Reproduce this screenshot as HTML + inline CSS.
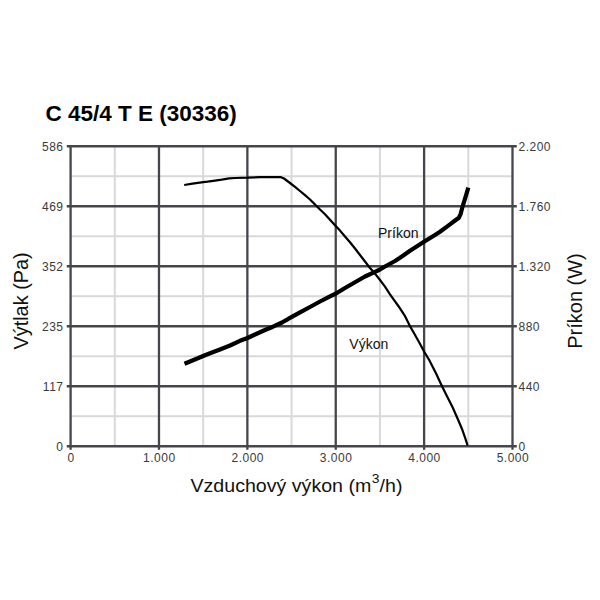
<!DOCTYPE html>
<html><head><meta charset="utf-8"><style>
html,body{margin:0;padding:0;background:#fff;}
svg{display:block;}
text{font-family:"Liberation Sans",sans-serif;}
.t{font-size:12px;fill:#3a3a3a;letter-spacing:0.5px;}
.c{font-size:14px;fill:#111;}
.ax{font-size:19.6px;fill:#111;}
.title{font-size:22.5px;font-weight:bold;fill:#000;}
</style></head><body>
<svg width="600" height="600" viewBox="0 0 600 600">
<rect width="600" height="600" fill="#fff"/>
<line x1="114.79" y1="146.25" x2="114.79" y2="446.25" stroke="#d8d9db" stroke-width="2"/>
<line x1="203.17" y1="146.25" x2="203.17" y2="446.25" stroke="#d8d9db" stroke-width="2"/>
<line x1="291.55" y1="146.25" x2="291.55" y2="446.25" stroke="#d8d9db" stroke-width="2"/>
<line x1="379.93" y1="146.25" x2="379.93" y2="446.25" stroke="#d8d9db" stroke-width="2"/>
<line x1="468.31" y1="146.25" x2="468.31" y2="446.25" stroke="#d8d9db" stroke-width="2"/>
<line x1="70.60" y1="416.25" x2="512.50" y2="416.25" stroke="#d8d9db" stroke-width="2"/>
<line x1="70.60" y1="356.25" x2="512.50" y2="356.25" stroke="#d8d9db" stroke-width="2"/>
<line x1="70.60" y1="296.25" x2="512.50" y2="296.25" stroke="#d8d9db" stroke-width="2"/>
<line x1="70.60" y1="236.25" x2="512.50" y2="236.25" stroke="#d8d9db" stroke-width="2"/>
<line x1="70.60" y1="176.25" x2="512.50" y2="176.25" stroke="#d8d9db" stroke-width="2"/>
<line x1="70.60" y1="146.25" x2="70.60" y2="449.85" stroke="#45464b" stroke-width="2.3"/>
<line x1="158.98" y1="146.25" x2="158.98" y2="449.85" stroke="#45464b" stroke-width="2.3"/>
<line x1="247.36" y1="146.25" x2="247.36" y2="449.85" stroke="#45464b" stroke-width="2.3"/>
<line x1="335.74" y1="146.25" x2="335.74" y2="449.85" stroke="#45464b" stroke-width="2.3"/>
<line x1="424.12" y1="146.25" x2="424.12" y2="449.85" stroke="#45464b" stroke-width="2.3"/>
<line x1="512.50" y1="146.25" x2="512.50" y2="449.85" stroke="#45464b" stroke-width="2.3"/>
<line x1="66.80" y1="446.25" x2="516.80" y2="446.25" stroke="#45464b" stroke-width="2.3"/>
<line x1="66.80" y1="386.25" x2="516.80" y2="386.25" stroke="#45464b" stroke-width="2.3"/>
<line x1="66.80" y1="326.25" x2="516.80" y2="326.25" stroke="#45464b" stroke-width="2.3"/>
<line x1="66.80" y1="266.25" x2="516.80" y2="266.25" stroke="#45464b" stroke-width="2.3"/>
<line x1="66.80" y1="206.25" x2="516.80" y2="206.25" stroke="#45464b" stroke-width="2.3"/>
<line x1="66.80" y1="146.25" x2="516.80" y2="146.25" stroke="#45464b" stroke-width="2.3"/>
<polyline points="184.2,185.0 192.5,183.6 203.3,182.2 207.5,181.7 213.3,180.8 221.7,179.6 229.2,178.3 235.0,178.0 247.5,177.7 260.0,177.1 275.0,177.2 281.0,177.2 284.0,178.5 290.0,183.0 295.0,186.8 300.0,191.0 305.0,195.2 310.0,199.5 315.0,204.5 320.0,209.5 325.0,214.2 330.0,219.8 335.0,225.3 340.0,230.6 345.0,236.5 350.0,242.3 355.0,248.5 360.0,255.0 365.0,261.5 370.0,268.0 375.0,273.6 380.0,280.0 385.0,286.7 390.0,294.3 395.0,301.3 398.0,305.5 400.0,308.3 404.7,315.6 409.9,326.0 415.2,335.3 419.8,343.5 424.2,351.7 429.2,360.0 436.2,373.8 442.0,386.2 447.0,396.2 452.7,407.5 458.3,420.2 461.9,428.7 465.4,438.7 467.6,445.5" fill="none" stroke="#000" stroke-width="2.2" stroke-linejoin="round"/>
<polyline points="184.5,363.8 190.0,361.5 203.2,356.0 210.0,353.3 220.0,349.5 230.0,345.5 240.0,340.8 247.5,338.0 255.0,334.5 265.0,330.0 273.0,326.7 282.0,322.5 287.0,319.7 290.0,317.8 300.0,312.3 310.0,307.0 320.0,301.5 330.0,296.3 336.0,293.5 345.0,288.0 355.0,282.2 365.0,276.5 374.0,272.3 380.0,269.5 385.0,266.5 395.0,261.0 400.0,257.8 410.0,250.8 424.0,241.8 435.0,235.0 440.0,231.8 449.0,225.1 454.4,221.0 458.9,217.7 460.7,213.8 462.5,206.8 464.8,199.4 467.0,192.2 468.3,187.7" fill="none" stroke="#000" stroke-width="4.2" stroke-linejoin="round"/>
<text x="63.5" y="450.85" text-anchor="end" class="t">0</text>
<text x="518.5" y="450.85" class="t">0</text>
<text x="71.00" y="462.4" text-anchor="middle" class="t">0</text>
<text x="63.5" y="390.85" text-anchor="end" class="t">117</text>
<text x="518.5" y="390.85" class="t">440</text>
<text x="159.38" y="462.4" text-anchor="middle" class="t">1.000</text>
<text x="63.5" y="330.85" text-anchor="end" class="t">235</text>
<text x="518.5" y="330.85" class="t">880</text>
<text x="247.76" y="462.4" text-anchor="middle" class="t">2.000</text>
<text x="63.5" y="270.85" text-anchor="end" class="t">352</text>
<text x="518.5" y="270.85" class="t">1.320</text>
<text x="336.14" y="462.4" text-anchor="middle" class="t">3.000</text>
<text x="63.5" y="210.85" text-anchor="end" class="t">469</text>
<text x="518.5" y="210.85" class="t">1.760</text>
<text x="424.52" y="462.4" text-anchor="middle" class="t">4.000</text>
<text x="63.5" y="150.85" text-anchor="end" class="t">586</text>
<text x="518.5" y="150.85" class="t">2.200</text>
<text x="512.90" y="462.4" text-anchor="middle" class="t">5.000</text>
<text x="349.3" y="348.7" class="c">Výkon</text>
<text x="378" y="237.7" class="c">Príkon</text>
<text x="45.5" y="120.8" class="title">C 45/4 T E (30336)</text>
<text transform="translate(190.5,491.7) scale(1.027,1)" class="ax" style="font-size:19.1px">Vzduchový výkon (m<tspan dx="0.5" dy="-8.5" font-size="13.5">3</tspan><tspan dy="8.5">/h)</tspan></text>
<text transform="translate(27.8,300.9) rotate(-90)" text-anchor="middle" class="ax" style="font-size:19.9px">Výtlak (Pa)</text>
<text transform="translate(582.2,301) rotate(-90)" text-anchor="middle" class="ax" style="font-size:20px">Príkon (W)</text>
</svg>
</body></html>
